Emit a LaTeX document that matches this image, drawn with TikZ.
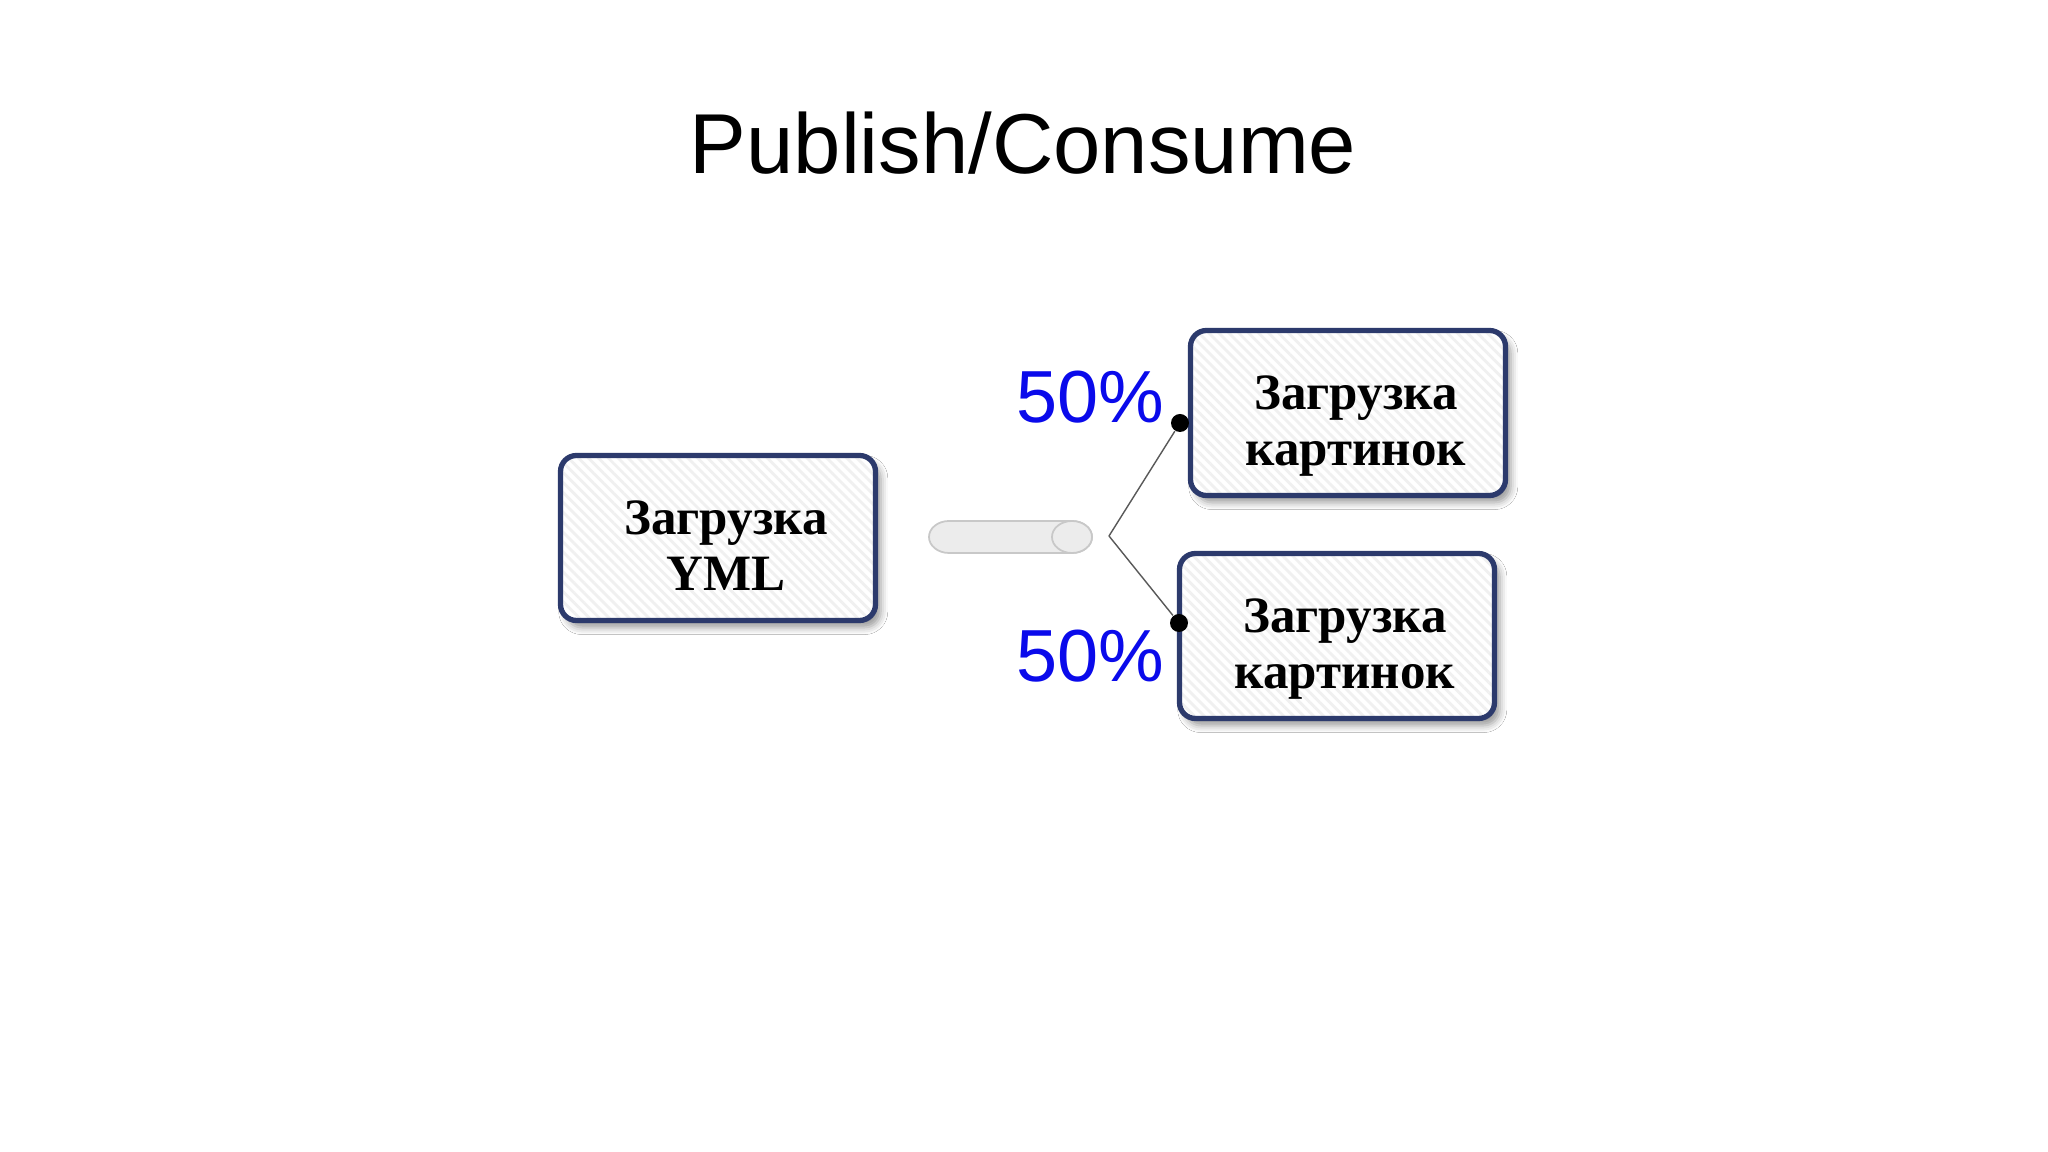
\documentclass[tikz,border=0pt]{standalone}
\usepackage{fontspec}
\setmainfont{Liberation Serif}
\setsansfont{Liberation Sans}
\usetikzlibrary{patterns.meta, shadows.blur}
\definecolor{boxborder}{RGB}{44,58,108}
\definecolor{pctblue}{RGB}{10,10,235}
\definecolor{queuefill}{RGB}{236,236,236}
\definecolor{queueline}{RGB}{200,200,200}
\newcommand{\indentln}{\hspace*{0.16cm}}

\begin{document}
\begin{tikzpicture}[
    task/.style={draw=boxborder, line width=1.5pt, rounded corners=0.16cm,
        minimum width=3.15cm, minimum height=1.65cm, align=center,
        text height=1.06cm, text depth=0pt,
        font=\bfseries\fontsize{14.5}{16.2}\selectfont,
        blur shadow={shadow xshift=1.5pt, shadow yshift=-2pt, shadow blur radius=2pt, shadow opacity=40},
        preaction={fill=white},
        pattern={Lines[angle=-45, distance=2pt, line width=0.8pt]}, pattern color=gray!12},
    queue/.style={fill=queuefill, draw=queueline, line width=0.5pt},
    pct/.style={font=\sffamily\fontsize{21}{21}\selectfont, text=pctblue, anchor=base east, inner sep=0pt},
    headline/.style={font=\sffamily\fontsize{24.2}{24.2}\selectfont, anchor=base, inner sep=0pt},
    dotmark/.style={circle, fill=black, minimum size=0.18cm, inner sep=0pt},
    link/.style={draw=black!65, line width=0.4pt}
]
    \useasboundingbox (0,0) rectangle (20.48,11.52);
    \fill[white] (0,0) rectangle (20.48,11.52);

    \node[headline] (title) at (10.23, 9.78) {Publish/Consume};

    \node[task] (yml) at (7.18, 6.14) {\indentln Загрузка\\\indentln YML};

    % queue drawn as a lying cylinder
    \path[queue] (10.72, 6.31) -- (9.49, 6.31)
        arc[start angle=90, end angle=270, x radius=0.2, y radius=0.16]
        -- (10.72, 5.99)
        arc[start angle=-90, end angle=90, x radius=0.2, y radius=0.16] -- cycle;
    \path[queue] (10.72, 6.15) ellipse [x radius=0.2, y radius=0.16];

    \node[task] (imgtop) at (13.48, 7.39) {\indentln Загрузка\\\indentln картинок};
    \node[task] (imgbot) at (13.37, 5.16) {\indentln Загрузка\\\indentln картинок};

    \node[pct] (pcttop) at (11.65, 7.29) {50\%};
    \node[pct] (pctbot) at (11.65, 4.70) {50\%};

    % fork from the queue to both consumers
    \coordinate (fork) at (11.09, 6.16);
    \node[dotmark] (dtop) at (11.80, 7.29) {};
    \node[dotmark] (dbot) at (11.79, 5.29) {};
    \draw[link] (fork) -- (dtop);
    \draw[link] (fork) -- (dbot);
\end{tikzpicture}
\end{document}
